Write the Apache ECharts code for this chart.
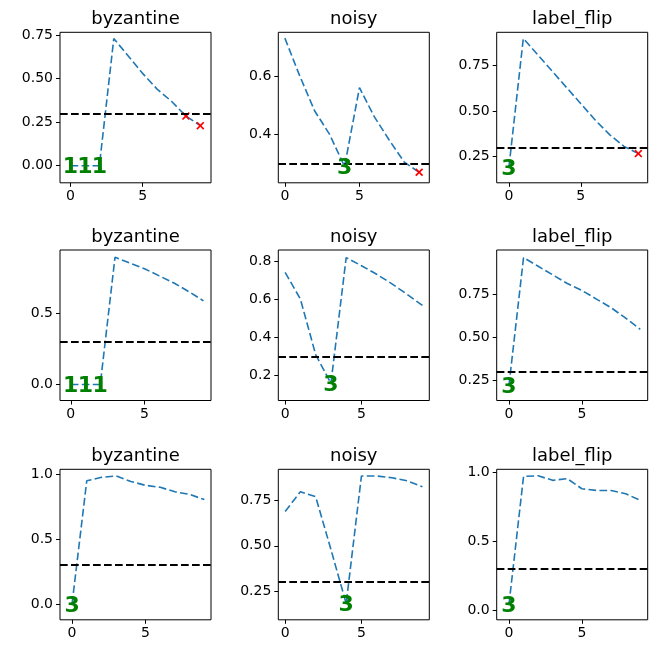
<!DOCTYPE html>
<html>
<head>
<meta charset="utf-8">
<script src="https://cdn.jsdelivr.net/npm/echarts@6/dist/echarts.min.js"></script>
<style>
  html, body { margin: 0; padding: 0; background: #fff; }
  #chart { width: 654px; height: 646px; }
</style>
</head>
<body>
<div id="chart"></div>
<script>
// data
const steps = [0, 1, 2, 3, 4, 5, 6, 7, 8, 9]
const threshold = 0.3
const panelTitles = ['byzantine', 'noisy', 'label_flip', 'byzantine', 'noisy', 'label_flip', 'byzantine', 'noisy', 'label_flip']

const byzantine0 = [0, 0, 0, 0.73, 0.63, 0.53, 0.44, 0.37, 0.285, 0.23]
const noisy0 = [0.73, 0.60, 0.48, 0.40, 0.29, 0.56, 0.46, 0.38, 0.305, 0.27]
const labelFlip0 = [0.19, 0.90, 0.81, 0.72, 0.63, 0.54, 0.45, 0.37, 0.305, 0.265]
const byzantine1 = [0, 0, 0, 0.89, 0.85, 0.81, 0.76, 0.71, 0.65, 0.585]
const noisy1 = [0.74, 0.60, 0.31, 0.16, 0.817, 0.775, 0.73, 0.68, 0.625, 0.567]
const labelFlip1 = [0.22, 0.96, 0.91, 0.86, 0.81, 0.77, 0.72, 0.67, 0.61, 0.545]
const byzantine2 = [0.0, 0.95, 0.977, 0.987, 0.945, 0.915, 0.90, 0.865, 0.845, 0.805]
const noisy2 = [0.69, 0.80, 0.772, 0.48, 0.18, 0.887, 0.887, 0.877, 0.86, 0.827]
const labelFlip2 = [0.04, 0.969, 0.973, 0.94, 0.952, 0.879, 0.867, 0.867, 0.843, 0.795]
const panelValues = [byzantine0, noisy0, labelFlip0, byzantine1, noisy1, labelFlip1, byzantine2, noisy2, labelFlip2]

// green text marks and red crosses (indices into steps)
const markText = ['1', '3', '3', '1', '3', '3', '3', '3', '3']
const markIdx = [[0, 1, 2], [4], [0], [0, 1, 2], [3], [0], [0], [4], [0]]
const flagIdx = [[8, 9], [9], [9], [], [], [], [], [], []]

// tick labels
const xTickLabels = ['0', '5']
const yTickLabels = [
    ['0.00', '0.25', '0.50', '0.75'],
    ['0.4', '0.6'],
    ['0.25', '0.50', '0.75'],
    ['0.0', '0.5'],
    ['0.2', '0.4', '0.6', '0.8'],
    ['0.25', '0.50', '0.75'],
    ['0.0', '0.5', '1.0'],
    ['0.25', '0.50', '0.75'],
    ['0.0', '0.5', '1.0']
]

// axis limits [xmin, xmax, ymin, ymax]
const limits = [
    [-0.73, 9.74, -0.098, 0.766],
    [-0.44, 9.68, 0.234, 0.75],
    [-0.85, 9.65, 0.104, 0.934],
    [-0.73, 9.51, -0.112, 0.941],
    [-0.45, 9.45, 0.07, 0.857],
    [-0.84, 9.51, 0.133, 1.004],
    [-0.82, 9.45, -0.123, 1.039],
    [-0.45, 9.45, 0.09, 0.924],
    [-0.84, 9.51, -0.07, 1.02]
]

const colLeft = [60, 278.3, 496.7]
const rowTop = [32.3, 250, 469.3]
const boxW = 151
const boxH = 150.5
const font = 'DejaVu Sans'
const dash = [7.7, 3.3]
const crossPath = 'path://M0,1.5L1.5,0L5,3.5L8.5,0L10,1.5L6.5,5L10,8.5L8.5,10L5,6.5L1.5,10L0,8.5L3.5,5Z'

const grids = [], xAxes = [], yAxes = [], series = [], titles = []

panelValues.forEach((vals, i) => {
    const left = colLeft[i % 3]
    const top = rowTop[Math.floor(i / 3)]
    const lim = limits[i]
    const yTicks = yTickLabels[i].map(parseFloat)
    const xTicks = xTickLabels.map(parseFloat)

    grids.push({
        left: left, top: top, width: boxW, height: boxH,
        show: true, borderColor: '#000', borderWidth: 1, backgroundColor: 'transparent'
    })
    xAxes.push({
        gridIndex: i, type: 'value', min: lim[0], max: lim[1],
        axisLine: { show: false, onZero: false },
        splitLine: { show: false },
        axisTick: { show: true, customValues: xTicks, length: 4, lineStyle: { color: '#000', width: 1 } },
        axisLabel: {
            customValues: xTicks, color: '#000', fontSize: 14, fontFamily: font, margin: 7,
            formatter: v => xTickLabels[xTicks.findIndex(t => Math.abs(t - v) < 1e-6)]
        }
    })
    yAxes.push({
        gridIndex: i, type: 'value', min: lim[2], max: lim[3],
        axisLine: { show: false, onZero: false },
        splitLine: { show: false },
        axisTick: { show: true, customValues: yTicks, length: 4, lineStyle: { color: '#000', width: 1 } },
        axisLabel: {
            customValues: yTicks, color: '#000', fontSize: 14, fontFamily: font, margin: 7,
            formatter: v => yTickLabels[i][yTicks.findIndex(t => Math.abs(t - v) < 1e-6)]
        }
    })

    series.push({
        type: 'line', xAxisIndex: i, yAxisIndex: i, z: 2,
        data: vals.map((v, k) => [steps[k], v]),
        symbol: 'none',
        lineStyle: { color: '#1f77b4', width: 1.6, type: dash },
        markLine: {
            silent: true, symbol: ['none', 'none'], label: { show: false },
            lineStyle: { color: '#000', width: 2, type: dash },
            data: [{ yAxis: threshold }]
        }
    })
    if (flagIdx[i].length) {
        series.push({
            type: 'scatter', xAxisIndex: i, yAxisIndex: i, z: 4,
            data: flagIdx[i].map(k => [steps[k], vals[k]]),
            symbol: crossPath, symbolSize: 8,
            itemStyle: { color: '#ff0000', opacity: 1 }
        })
    }
    series.push({
        type: 'scatter', xAxisIndex: i, yAxisIndex: i, z: 5,
        data: markIdx[i].map(k => [steps[k], vals[k]]),
        symbolSize: 1, itemStyle: { color: 'rgba(0,0,0,0)', opacity: 1 },
        label: {
            show: true, position: 'inside', offset: [0, 2], formatter: markText[i],
            color: '#008000', opacity: 1, fontSize: 22, fontWeight: 'bold', fontFamily: font
        }
    })

    titles.push({
        type: 'text', x: left + boxW / 2, y: top - 13,
        style: {
            text: panelTitles[i], fill: '#000', font: '18px "DejaVu Sans"',
            align: 'center', verticalAlign: 'middle'
        }
    })
})

const chart = echarts.init(document.getElementById('chart'))
chart.setOption({
    animation: false,
    grid: grids,
    xAxis: xAxes,
    yAxis: yAxes,
    series: series,
    graphic: titles
})
</script>
</body>
</html>
